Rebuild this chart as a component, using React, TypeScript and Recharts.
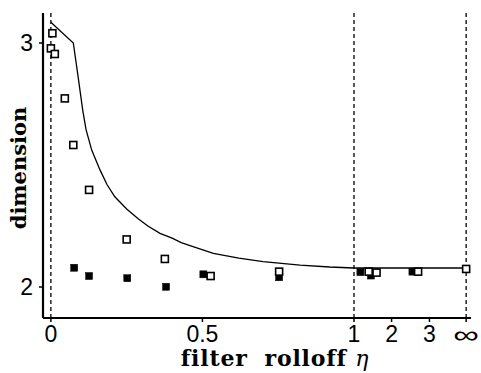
import React from 'react';
import { ComposedChart, Scatter, XAxis, YAxis, ReferenceLine, Label } from 'recharts';

// x-axis tick values (filter rolloff eta) and their labels
const etaTicks: number[] = [0, 0.5, 1, 2, 3, Infinity];
const etaTickLabels: string[] = ['0', '0.5', '1', '2', '3', '\u221E'];
const yTicks: number[] = [2, 3];

// axis warp: linear on [0,1], compressed beyond 1
const warpEta: number[] = [0, 1, 2, 3];
const warpU: number[] = [0, 1, 1.124, 1.249];
const warpInf = 1.37;

// open squares
const openEta: number[] = [0.005, 0, 0.013, 0.046, 0.074, 0.126, 0.25, 0.376, 0.527, 0.753, 1.39, 1.6, 2.7, Infinity];
const openDim: number[] = [3.04, 2.978, 2.955, 2.773, 2.582, 2.398, 2.195, 2.115, 2.045, 2.063, 2.063, 2.059, 2.063, 2.074];

// filled squares
const filledEta: number[] = [0.077, 0.126, 0.252, 0.38, 0.503, 0.753, 1.17, 1.45, 2.55];
const filledDim: number[] = [2.079, 2.045, 2.036, 2.001, 2.052, 2.04, 2.061, 2.047, 2.063];

// theoretical curve
const curveEta: number[] = [0, 0.074, 0.09, 0.105, 0.116, 0.135, 0.162, 0.185, 0.211, 0.25, 0.288, 0.32, 0.36, 0.4, 0.43, 0.459, 0.536, 0.62, 0.7, 0.822, 0.92, 1, 2, 3, Infinity];
const curveDim: number[] = [3.085, 3.0, 2.86, 2.725, 2.645, 2.56, 2.48, 2.42, 2.37, 2.32, 2.28, 2.25, 2.22, 2.2, 2.182, 2.17, 2.138, 2.118, 2.104, 2.09, 2.082, 2.078, 2.078, 2.078, 2.078];

function toU(eta: number): number {
  if (!isFinite(eta)) return warpInf;
  for (let i = 1; i < warpEta.length; i++) {
    if (eta <= warpEta[i]) {
      const t = (eta - warpEta[i - 1]) / (warpEta[i] - warpEta[i - 1]);
      return warpU[i - 1] + t * (warpU[i] - warpU[i - 1]);
    }
  }
  return warpU[warpU.length - 1];
}

const tickU = etaTicks.map(toU);
const openData = openEta.map((e, i) => ({ u: toU(e), d: openDim[i] }));
const filledData = filledEta.map((e, i) => ({ u: toU(e), d: filledDim[i] }));
const curveData = curveEta.map((e, i) => ({ u: toU(e), d: curveDim[i] }));

const X_DOMAIN: [number, number] = [-0.026, 1.386];
const Y_DOMAIN: [number, number] = [1.873, 3.123];

const TICK_FONT = '"Liberation Sans", Arial, sans-serif';
const LABEL_FONT = '"DejaVu Serif", serif';

const XTick = (props: any) => {
  const { x, y, payload } = props;
  const i = tickU.findIndex((t) => Math.abs(t - payload.value) < 1e-6);
  const label = i >= 0 ? etaTickLabels[i] : '';
  if (label === '\u221E') {
    return (
      <text x={x} y={y} dy="0.75em" textAnchor="middle" fontSize={24} fontFamily={TICK_FONT} fill="#000"
        transform={`translate(${x} 0) scale(1.5 1) translate(${-x} 0)`}>{label}</text>
    );
  }
  return (
    <text x={x} y={y} dy="0.75em" textAnchor="middle" fontSize={23} fontFamily={TICK_FONT} fill="#000">{label}</text>
  );
};

const EmptyTick = () => <g />;

const OpenSquare = (props: any) => {
  const { cx, cy } = props;
  return <rect x={cx - 3.5} y={cy - 3.5} width={7} height={7} fill="#fff" stroke="#000" strokeWidth={1.6} />;
};

const FilledSquare = (props: any) => {
  const { cx, cy } = props;
  return <rect x={cx - 3.5} y={cy - 3.5} width={7} height={7} fill="#000" stroke="#000" strokeWidth={0.5} />;
};

const NoShape = () => <g />;

export default function App() {
  return (
    <div style={{ position: 'absolute', left: 0, top: 0, width: 481, height: 373, background: '#fff' }}>
      <ComposedChart width={481} height={373} margin={{ top: 13, right: 10, bottom: 0, left: 0 }}>
        <XAxis
          xAxisId={0}
          type="number"
          dataKey="u"
          domain={X_DOMAIN}
          ticks={tickU}
          allowDataOverflow
          height={55}
          tickSize={4}
          tickMargin={3}
          tick={<XTick />}
          axisLine={{ stroke: '#000', strokeWidth: 2.2 }}
          tickLine={{ stroke: '#000', strokeWidth: 1.5 }}
          interval={0}
        >
          <Label
            content={() => (
              <text x={275} y={366} textAnchor="middle" fontFamily={LABEL_FONT} fontWeight="bold" fontSize={22} letterSpacing={0.8} fill="#000">
                filter{'\u00A0\u00A0'}rolloff <tspan fontStyle="italic" fontWeight="normal">{'\u03B7'}</tspan>
              </text>
            )}
          />
        </XAxis>
        <XAxis
          xAxisId="top"
          orientation="top"
          type="number"
          dataKey="u"
          domain={X_DOMAIN}
          ticks={tickU}
          allowDataOverflow
          height={0}
          tickSize={4}
          tick={EmptyTick}
          axisLine={{ stroke: '#000', strokeWidth: 1.8 }}
          tickLine={{ stroke: '#000', strokeWidth: 1.5 }}
          interval={0}
        />
        <YAxis
          yAxisId={0}
          type="number"
          dataKey="d"
          domain={Y_DOMAIN}
          ticks={yTicks}
          allowDataOverflow
          width={43}
          tickSize={4}
          tickMargin={6}
          tick={{ fontSize: 23, fontFamily: TICK_FONT, fill: '#000' }}
          axisLine={{ stroke: '#000', strokeWidth: 2.2 }}
          tickLine={{ stroke: '#000', strokeWidth: 1.5 }}
          interval={0}
        >
          <Label
            content={() => (
              <text x={26} y={168} transform="rotate(-90 26 168)" textAnchor="middle" fontFamily={LABEL_FONT} fontWeight="bold" fontSize={21} fill="#000">
                dimension
              </text>
            )}
          />
        </YAxis>
        <YAxis
          yAxisId="right"
          orientation="right"
          type="number"
          domain={Y_DOMAIN}
          allowDataOverflow
          width={0}
          tick={false}
          tickLine={false}
          axisLine={{ stroke: '#000', strokeWidth: 2.2 }}
        />
        <ReferenceLine x={tickU[0]} stroke="#000" strokeWidth={1.3} strokeDasharray="4 3" />
        <ReferenceLine x={tickU[2]} stroke="#000" strokeWidth={1.3} strokeDasharray="4 3" />
        <ReferenceLine x={tickU[5]} stroke="#000" strokeWidth={1.3} strokeDasharray="4 3" />
        <Scatter data={curveData} dataKey="d" line={{ stroke: '#000', strokeWidth: 1.3 }} lineType="joint" shape={NoShape} isAnimationActive={false} />
        <Scatter data={filledData} dataKey="d" shape={FilledSquare} isAnimationActive={false} />
        <Scatter data={openData} dataKey="d" shape={OpenSquare} isAnimationActive={false} />
      </ComposedChart>
    </div>
  );
}
